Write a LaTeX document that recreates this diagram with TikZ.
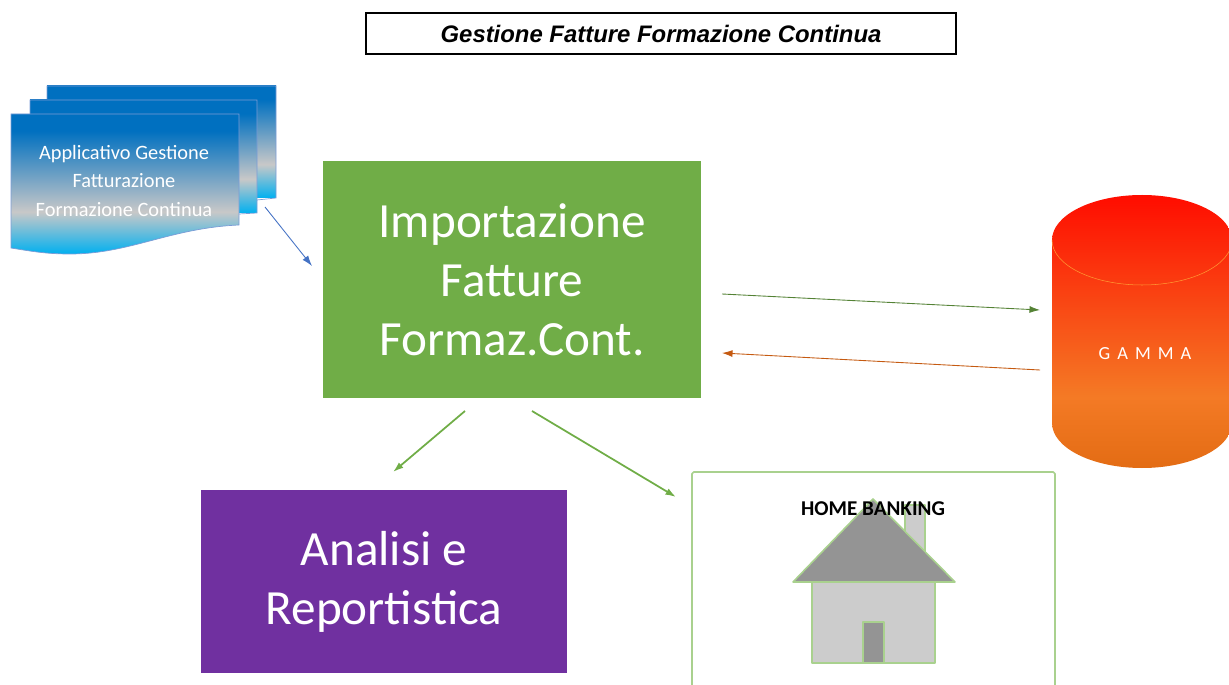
\documentclass[tikz,border=0pt]{standalone}
\usepackage{fontspec}
\setmainfont{Carlito}
\newfontfamily\titlefont{Liberation Sans}
\usepackage{xcolor}
\usetikzlibrary{arrows.meta}
\definecolor{boxgreen}{HTML}{70AD47}
\definecolor{boxpurple}{HTML}{7030A0}
\definecolor{linegreen}{HTML}{A9D18E}
\definecolor{arrowgreen}{HTML}{548235}
\definecolor{arrowblue}{HTML}{4472C4}
\definecolor{arroworange}{HTML}{C55A11}
\definecolor{docdark}{HTML}{0070C0}
\definecolor{docgrey}{HTML}{C8C8C8}
\definecolor{doclight}{HTML}{00B0F0}
\definecolor{cylred}{HTML}{FF0C00}
\definecolor{cylorange}{HTML}{F47A25}
\definecolor{cylbase}{HTML}{E36C14}
\pgfdeclareverticalshading{docshade}{100bp}{color(0bp)=(doclight);color(25bp)=(doclight);color(40bp)=(docgrey);color(69bp)=(docdark);color(100bp)=(docdark)}
\pgfdeclareverticalshading{cylshade}{100bp}{color(0bp)=(cylbase);color(25bp)=(cylbase);color(38bp)=(cylorange);color(75bp)=(cylred);color(100bp)=(cylred)}
\def\backsheet{(47,86) -- (276,86) -- (276,198) -- (257,200) -- (257,100) -- (47,100) -- cycle}
\def\middlesheet{(30,100) -- (257,100) -- (257,213) -- (239,214) -- (239,114) -- (30,114) -- cycle}
\def\frontsheet{(11,114) -- (239,114) -- (239,225) .. controls (170,228) and (130,254) .. (70,254) .. controls (45,254) and (30,251) .. (11,248) -- cycle}
\def\cylinder{(1052,240) -- (1052,423) arc[start angle=180,end angle=0,x radius=90,y radius=45] -- (1232,240) arc[start angle=0,end angle=-180,x radius=90,y radius=45] -- cycle}
\tikzset{
  bigbox/.style={rectangle,inner sep=0pt,text=white,align=center,font=\fontsize{28}{33.6}\selectfont},
  flowarrow/.style={-{Latex[length=6pt,width=4pt]},line width=0.5pt},
  houseline/.style={draw=linegreen,line width=0.9pt,line join=round},
}
\begin{document}
\begin{tikzpicture}[x=0.02cm,y=-0.02cm]
\useasboundingbox (0,0) rectangle (1229,685);

\node[draw=black,line width=1.1pt,minimum width=11.8cm,minimum height=0.82cm,inner sep=0pt,font=\titlefont\fontsize{13.6}{16}\selectfont\bfseries\itshape] (title) at (661,33.5) {Gestione Fatture Formazione Continua};

\shade[shading=docshade] (47,86) rectangle (276,198);
\draw[arrowblue!70!white,line width=0.4pt] (47,100) -- (47,86) -- (276,86) -- (276,198) -- (257,200);
\shade[shading=docshade] (30,100) rectangle (257,213);
\draw[arrowblue!70!white,line width=0.4pt] (30,114) -- (30,100) -- (257,100) -- (257,213) -- (239,214);
\shade[shading=docshade] \frontsheet;
\draw[arrowblue!70!white,line width=0.4pt] \frontsheet;
\node[text=white,align=center,font=\fontsize{11.6}{16.5}\selectfont] (source) at (124,181) {Applicativo Gestione\\Fatturazione\\Formazione Continua};

\node[bigbox,fill=boxgreen,minimum width=7.56cm,minimum height=4.74cm] (import) at (512,279.5) {Importazione\\Fatture\\Formaz.Cont.};
\node[bigbox,fill=boxpurple,minimum width=7.32cm,minimum height=3.66cm] (report) at (384,581.5) {Analisi e\\Reportistica};

\shade[shading=cylshade] \cylinder;
\draw[orange!80!white,line width=0.3pt] (1052,240) arc[start angle=180,end angle=0,x radius=90,y radius=45];
\node[text=white,font=\fontsize{10.5}{12}\selectfont\addfontfeature{LetterSpace=38}] (gamma) at (1145,354) {GAMMA};

\draw[houseline,rounded corners=1pt] (692,700) -- (692,472) -- (1055,472) -- (1055,700);
\filldraw[houseline,fill=black!20] (905,505) rectangle (925,560);
\filldraw[houseline,fill=black!20] (812,582) rectangle (935,663);
\filldraw[houseline,fill=black!42] (793,582) -- (873,499) -- (955,582) -- cycle;
\filldraw[houseline,fill=black!42] (863,622) rectangle (884,663);
\node[font=\fontsize{12}{14}\selectfont\bfseries] (bank) at (873,509) {HOME BANKING};

\coordinate (sourceout) at (265,207);
\coordinate (importin) at (312,266);
\coordinate (importright) at (722,294);
\coordinate (gammain) at (1040,310);
\coordinate (gammaout) at (1040,370);
\coordinate (importback) at (722,353);
\coordinate (importleft) at (465,411);
\coordinate (reportin) at (393,472);
\coordinate (importdown) at (532,411);
\coordinate (bankin) at (676,497);

\draw[flowarrow,arrowblue] (sourceout) -- (importin);
\draw[flowarrow,arrowgreen] (importright) -- (gammain);
\draw[flowarrow,arroworange] (gammaout) -- (importback);
\draw[flowarrow,boxgreen,line width=1pt] (importleft) -- (reportin);
\draw[flowarrow,boxgreen,line width=1pt] (importdown) -- (bankin);

\end{tikzpicture}
\end{document}
